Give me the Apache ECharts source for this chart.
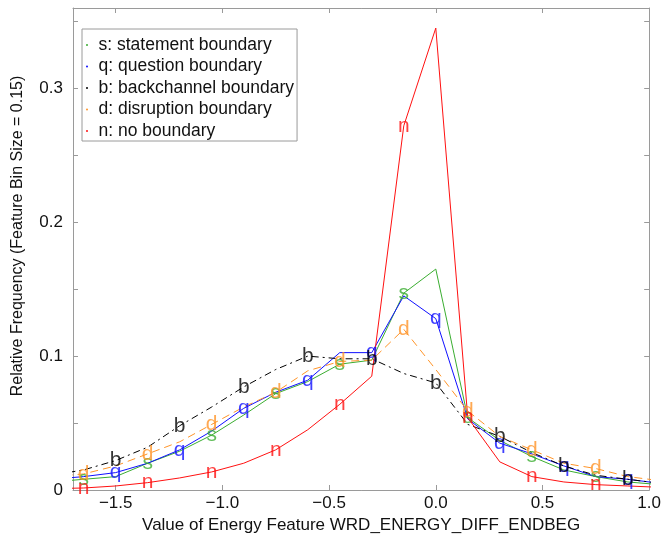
<!DOCTYPE html>
<html>
<head>
<meta charset="utf-8">
<script src="https://cdn.jsdelivr.net/npm/echarts@6/dist/echarts.min.js"></script>
<style>
html,body{margin:0;padding:0;background:#fff;}
#chart{width:664px;height:540px;}
</style>
</head>
<body>
<div id="chart"></div>
<script>
// Feature bin centres (bin size 0.15)
const bins = [-1.8, -1.65, -1.5, -1.35, -1.2, -1.05, -0.9, -0.75, -0.6, -0.45, -0.3, -0.15, 0, 0.15, 0.3, 0.45, 0.6, 0.75, 0.9, 1.05];
// Relative frequencies per boundary type
const sVals = [0.006, 0.008, 0.010, 0.020, 0.029, 0.041, 0.056, 0.072, 0.081, 0.094, 0.097, 0.147, 0.165, 0.054, 0.037, 0.025, 0.015, 0.010, 0.006, 0.004];
const qVals = [0.008, 0.010, 0.013, 0.020, 0.030, 0.044, 0.061, 0.073, 0.082, 0.1026, 0.1026, 0.145, 0.128, 0.053, 0.035, 0.027, 0.018, 0.010, 0.008, 0.005];
const bVals = [0.011, 0.015, 0.022, 0.032, 0.048, 0.062, 0.077, 0.090, 0.100, 0.098, 0.098, 0.087, 0.080, 0.049, 0.040, 0.028, 0.018, 0.011, 0.008, 0.005];
const dVals = [0.010, 0.012, 0.018, 0.027, 0.036, 0.049, 0.062, 0.073, 0.089, 0.096, 0.097, 0.120, 0.090, 0.059, 0.040, 0.030, 0.020, 0.016, 0.010, 0.007];
const nVals = [0.001, 0.0015, 0.003, 0.0055, 0.009, 0.0135, 0.020, 0.030, 0.045, 0.064, 0.085, 0.272, 0.345, 0.054, 0.021, 0.010, 0.006, 0.004, 0.003, 0.002];

const seriesNames = ['s: statement boundary', 'q: question boundary', 'b: backchannel boundary', 'd: disruption boundary', 'n: no boundary'];
const seriesLetters = ['s', 'q', 'b', 'd', 'n'];
// which bins carry a letter marker: odd indices (-1.65, -1.35, ...) or even (-1.5, -1.2, ...)
const letterParity = [1, 0, 0, 1, 1];

const xTicks = [-1.5, -1.0, -0.5, 0.0, 0.5, 1.0];
const yTicks = [0, 0.05, 0.1, 0.15, 0.2, 0.25, 0.3, 0.35];
const yLabels = [0, 0.1, 0.2, 0.3];

const allVals = [sVals, qVals, bVals, dVals, nVals];
const colors = ['#3aad30', '#1010ff', '#000000', '#ff9428', '#ff1010'];
const lineTypes = ['solid', 'solid', [7, 4, 2, 4], [8, 5], 'solid'];

const FONT = '"Liberation Sans", Arial, sans-serif';
const GRAY = '#9a9a9a';

const series = [];
allVals.forEach((vals, k) => {
  series.push({
    name: seriesNames[k],
    type: 'line',
    data: bins.map((x, i) => [x, vals[i]]),
    symbol: 'none',
    showSymbol: false,
    clip: true,
    color: colors[k],
    lineStyle: { color: colors[k], width: 1, type: lineTypes[k] },
    itemStyle: { color: colors[k] },
    silent: true,
    z: 2
  });
});
allVals.forEach((vals, k) => {
  const pts = [];
  bins.forEach((x, i) => {
    if (i % 2 === letterParity[k] && x > -1.7 && x < 1.0) pts.push([x, vals[i]]);
  });
  series.push({
    name: 'mk_' + seriesLetters[k],
    type: 'scatter',
    data: pts,
    symbolSize: 1,
    itemStyle: { color: 'rgba(0,0,0,0)' },
    silent: true,
    z: 3,
    label: {
      show: true,
      position: 'inside',
      formatter: seriesLetters[k],
      color: colors[k],
      fontSize: 21,
      fontFamily: FONT
    }
  });
});

const fmtX = v => {
  const s = Math.abs(v).toFixed(1);
  return v < -1e-9 ? '\u2212' + s : s;
};

const chart = echarts.init(document.getElementById('chart'), null, { renderer: 'canvas' });
chart.setOption({
  animation: false,
  backgroundColor: '#fff',
  grid: { left: 73, right: 12, top: 8, bottom: 50, containLabel: false },
  legend: {
    data: seriesNames,
    orient: 'vertical',
    left: 82,
    top: 29,
    padding: [7, 3, 1, 4],
    itemGap: 3.5,
    itemWidth: 13,
    itemHeight: 2,
    icon: 'circle',
    selectedMode: false,
    backgroundColor: '#fff',
    borderColor: GRAY,
    borderWidth: 1,
    textStyle: { fontSize: 17.5, fontFamily: FONT, color: '#111' }
  },
  xAxis: [{
    type: 'value',
    min: -1.7,
    max: 1.0,
    position: 'bottom',
    name: 'Value of Energy Feature WRD_ENERGY_DIFF_ENDBEG',
    nameLocation: 'middle',
    nameGap: 22,
    nameTextStyle: { fontSize: 17, fontFamily: FONT, color: '#111' },
    axisLine: { show: true, onZero: false, lineStyle: { color: GRAY, width: 1 } },
    axisTick: { show: true, inside: true, length: 5, customValues: xTicks, lineStyle: { color: GRAY } },
    axisLabel: { show: true, customValues: xTicks, formatter: fmtX, margin: 5, fontSize: 17, fontFamily: FONT, color: '#111' },
    splitLine: { show: false }
  }, {
    type: 'value',
    min: -1.7,
    max: 1.0,
    position: 'top',
    axisLine: { show: true, onZero: false, lineStyle: { color: GRAY, width: 1 } },
    axisTick: { show: true, inside: true, length: 5, customValues: xTicks, lineStyle: { color: GRAY } },
    axisLabel: { show: false },
    splitLine: { show: false }
  }],
  yAxis: [{
    type: 'value',
    min: 0,
    max: 0.36,
    position: 'left',
    axisLine: { show: true, onZero: false, lineStyle: { color: GRAY, width: 1 } },
    axisTick: { show: true, inside: true, length: 5, customValues: yTicks, lineStyle: { color: GRAY } },
    axisLabel: { show: true, customValues: yLabels, formatter: v => (v === 0 ? '0' : v.toFixed(1)), margin: 10, fontSize: 17, fontFamily: FONT, color: '#111' },
    splitLine: { show: false }
  }, {
    type: 'value',
    min: 0,
    max: 0.36,
    position: 'right',
    axisLine: { show: true, onZero: false, lineStyle: { color: GRAY, width: 1 } },
    axisTick: { show: true, inside: true, length: 5, customValues: yTicks, lineStyle: { color: GRAY } },
    axisLabel: { show: false },
    splitLine: { show: false }
  }],
  graphic: [{
    type: 'text',
    x: 18,
    y: 236,
    rotation: Math.PI / 2,
    silent: true,
    style: {
      text: 'Relative Frequency (Feature Bin Size = 0.15)',
      fontSize: 16,
      fontFamily: FONT,
      fill: '#111',
      textAlign: 'center',
      textVerticalAlign: 'middle'
    }
  }],
  series: series
});
</script>
</body>
</html>
